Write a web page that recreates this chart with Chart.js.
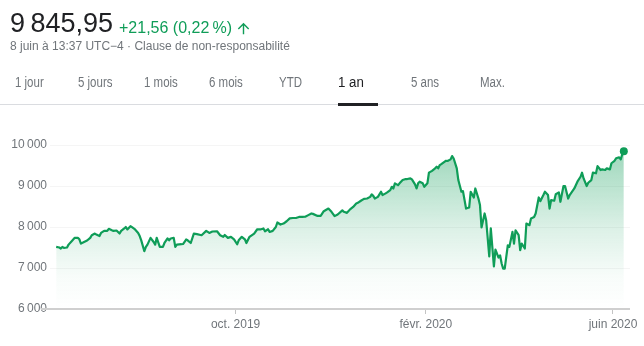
<!DOCTYPE html>
<html>
<head>
<meta charset="utf-8">
<script src="https://cdn.jsdelivr.net/npm/chart.js@4"></script>
<style>
  html, body { margin: 0; padding: 0; background: #fff; }
  body { width: 644px; height: 346px; position: relative; overflow: hidden;
         font-family: "Liberation Sans", Arial, sans-serif; }
  #chart { position: absolute; left: 0; top: 0; }
  .t { position: absolute; white-space: nowrap; line-height: 1; }
  .price { left: 10px; top: 10px; font-size: 27px; color: #202124; }
  .chg { left: 119px; top: 20px; font-size: 16px; color: #0f9d58; }
  .arrow { position: absolute; left: 234.5px; top: 19.5px; width: 17px; height: 17px; }
  .sub { left: 10px; top: 40px; font-size: 12px; color: #70757a; }
  .tab { top: 75px; font-size: 14px; color: #70757a; transform: scaleX(0.82); transform-origin: 0 0; }
  .tab.on { color: #202124; transform: scaleX(0.95); }
  .sep { position: absolute; left: 0; top: 103.5px; width: 644px; height: 1px; background: #dadce0; }
  .bar { position: absolute; left: 338px; top: 103px; width: 40px; height: 3px; background: #202124; }
</style>
</head>
<body>
<canvas id="chart" width="644" height="346"></canvas>

<div class="t price">9&#8239;845,95</div>
<div class="t chg">+21,56 (0,22&#8239;%)</div>
<svg class="arrow" viewBox="0 0 24 24"><path fill="#0f9d58" d="M4 12l1.41 1.41L11 7.83V20h2V7.83l5.58 5.59L20 12l-8-8-8 8z"/></svg>
<div class="t sub">8 juin à 13:37 UTC−4 · Clause de non-responsabilité</div>

<div class="t tab" style="left:15px">1 jour</div>
<div class="t tab" style="left:78px">5 jours</div>
<div class="t tab" style="left:144px">1 mois</div>
<div class="t tab" style="left:209px">6 mois</div>
<div class="t tab" style="left:279px">YTD</div>
<div class="t tab on" style="left:338px">1 an</div>
<div class="t tab" style="left:411px">5 ans</div>
<div class="t tab" style="left:480px">Max.</div>
<div class="sep"></div>
<div class="bar"></div>

<script>
// Index level over the last year
const dates = [
  '2019-06-07','2019-06-09','2019-06-10','2019-06-11','2019-06-12','2019-06-14','2019-06-15','2019-06-17',
  '2019-06-19','2019-06-21','2019-06-22','2019-06-23','2019-06-25','2019-06-27','2019-06-29','2019-06-30',
  '2019-07-02','2019-07-03','2019-07-05','2019-07-06','2019-07-08','2019-07-10','2019-07-11','2019-07-13',
  '2019-07-14','2019-07-16','2019-07-18','2019-07-19','2019-07-21','2019-07-22','2019-07-23','2019-07-25',
  '2019-07-26','2019-07-28','2019-07-30','2019-07-31','2019-08-01','2019-08-03','2019-08-04','2019-08-05',
  '2019-08-07','2019-08-09','2019-08-10','2019-08-11','2019-08-13','2019-08-15','2019-08-16','2019-08-18',
  '2019-08-19','2019-08-20','2019-08-22','2019-08-23','2019-08-24','2019-08-27','2019-08-28','2019-08-30',
  '2019-08-31','2019-09-02','2019-09-04','2019-09-06','2019-09-09','2019-09-12','2019-09-14','2019-09-16',
  '2019-09-19','2019-09-21','2019-09-23','2019-09-24','2019-09-26','2019-09-28','2019-09-30','2019-10-02',
  '2019-10-03','2019-10-05','2019-10-07','2019-10-08','2019-10-10','2019-10-13','2019-10-15','2019-10-17',
  '2019-10-19','2019-10-20','2019-10-22','2019-10-23','2019-10-25','2019-10-27','2019-10-28','2019-10-30',
  '2019-11-01','2019-11-03','2019-11-05','2019-11-07','2019-11-09','2019-11-11','2019-11-13','2019-11-15',
  '2019-11-17','2019-11-19','2019-11-20','2019-11-23','2019-11-25','2019-11-27','2019-11-30','2019-12-02',
  '2019-12-04','2019-12-06','2019-12-09','2019-12-10','2019-12-12','2019-12-14','2019-12-16','2019-12-18',
  '2019-12-19','2019-12-21','2019-12-23','2019-12-25','2019-12-27','2019-12-28','2019-12-29','2019-12-30',
  '2020-01-01','2020-01-03','2020-01-04','2020-01-06','2020-01-07','2020-01-09','2020-01-10','2020-01-11',
  '2020-01-12','2020-01-14','2020-01-15','2020-01-17','2020-01-19','2020-01-20','2020-01-22','2020-01-23',
  '2020-01-25','2020-01-26','2020-01-27','2020-01-28','2020-01-30','2020-01-31','2020-02-02','2020-02-03',
  '2020-02-05','2020-02-07','2020-02-08','2020-02-09','2020-02-10','2020-02-11','2020-02-13','2020-02-14',
  '2020-02-15','2020-02-17','2020-02-18','2020-02-19','2020-02-21','2020-02-22','2020-02-24','2020-02-25',
  '2020-02-27','2020-02-29','2020-03-01','2020-03-03','2020-03-04','2020-03-06','2020-03-07','2020-03-08',
  '2020-03-10','2020-03-11','2020-03-13','2020-03-14','2020-03-16','2020-03-17','2020-03-19','2020-03-20',
  '2020-03-21','2020-03-22','2020-03-23','2020-03-24','2020-03-25','2020-03-26','2020-03-28','2020-03-29',
  '2020-03-30','2020-04-01','2020-04-02','2020-04-03','2020-04-05','2020-04-06','2020-04-08','2020-04-09',
  '2020-04-11','2020-04-12','2020-04-14','2020-04-15','2020-04-17','2020-04-18','2020-04-20','2020-04-21',
  '2020-04-22','2020-04-24','2020-04-25','2020-04-27','2020-04-28','2020-04-30','2020-05-01','2020-05-03',
  '2020-05-04','2020-05-06','2020-05-07','2020-05-09','2020-05-11','2020-05-12','2020-05-13','2020-05-15',
  '2020-05-16','2020-05-18','2020-05-19','2020-05-21','2020-05-22','2020-05-24','2020-05-25','2020-05-27',
  '2020-05-28','2020-05-30','2020-05-31','2020-06-02','2020-06-03','2020-06-05','2020-06-06','2020-06-07',
  '2020-06-08'
];

const values = [
  7515, 7500, 7475, 7515, 7490, 7500, 7570, 7655,
  7735, 7735, 7700, 7595, 7635, 7670, 7735, 7800,
  7840, 7815, 7780, 7855, 7905, 7905, 7955, 7920,
  7905, 7915, 7840, 7905, 7965, 8000, 7940, 8020,
  7995, 7940, 7855, 7780, 7675, 7410, 7515, 7570,
  7735, 7635, 7570, 7735, 7515, 7515, 7610, 7720,
  7675, 7720, 7735, 7515, 7570, 7580, 7585, 7695,
  7675, 7610, 7840, 7825, 7800, 7905, 7855, 7890,
  7895, 7800, 7760, 7805, 7735, 7760, 7700, 7580,
  7675, 7760, 7700, 7610, 7760, 7840, 7945, 7940,
  7965, 7895, 7945, 7880, 7905, 8000, 8110, 8060,
  8085, 8140, 8210, 8220, 8220, 8245, 8245, 8250,
  8290, 8330, 8320, 8270, 8270, 8385, 8450, 8370,
  8265, 8305, 8405, 8370, 8345, 8430, 8490, 8575,
  8590, 8640, 8685, 8695, 8735, 8795, 8760, 8695,
  8735, 8860, 8780, 8820, 8845, 8900, 8980, 8940,
  9065, 9020, 9065, 9145, 9170, 9170, 9185, 9160,
  9040, 8940, 9065, 9105, 9065, 8980, 9065, 9325,
  9370, 9430, 9470, 9430, 9510, 9535, 9590, 9615,
  9610, 9650, 9730, 9670, 9430, 9145, 8860, 8875,
  8450, 8475, 8860, 8720, 8940, 8695, 8535, 7990,
  8330, 8165, 7285, 7965, 7040, 7450, 7255, 7310,
  7110, 6985, 6985, 7270, 7555, 7515, 7880, 7595,
  7920, 7800, 7435, 7595, 7475, 8085, 8045, 8210,
  8245, 8330, 8720, 8630, 8780, 8860, 8780, 8450,
  8655, 8640, 8800, 8845, 8615, 9000, 9000, 8695,
  8780, 8885, 8940, 9105, 9225, 9325, 9185, 9000,
  9080, 9145, 9325, 9310, 9485, 9390, 9405, 9390,
  9430, 9405, 9555, 9615, 9675, 9700, 9650, 9775,
  9845.95
];

const xTickDates = ['2019-10-01', '2020-02-01', '2020-06-01'];
const xTickLabels = ['oct. 2019', 'févr. 2020', 'juin 2020'];
const yTickValues = [6000, 7000, 8000, 9000, 10000];
const axisStart = '2019-06-03';
const axisEnd = '2020-06-12';

const DAY = 86400000;
const toDay = s => { const [y, m, d] = s.split('-').map(Number); return Date.UTC(y, m - 1, d) / DAY; };
const origin = toDay(dates[0]);
const points = dates.map((s, i) => ({ x: toDay(s) - origin, y: values[i] }));
const fmtThousands = v => Math.round(v / 1000) + '\u202f000';

const FONT = '"Liberation Sans", Arial, sans-serif';
const GREEN = '#0f9d58';

// Baseline under the plot, running a little past the left edge
const baseline = {
  id: 'baseline',
  afterDatasetsDraw(chart) {
    const { ctx, chartArea, scales } = chart;
    const py = scales.y.getPixelForValue(yTickValues[0]);
    ctx.save();
    ctx.strokeStyle = '#cfcfcf';
    ctx.lineWidth = 2;
    ctx.beginPath();
    ctx.moveTo(chartArea.left - 9, py);
    ctx.lineTo(chartArea.right, py);
    ctx.stroke();
    ctx.restore();
  }
};

new Chart(document.getElementById('chart'), {
  type: 'line',
  data: {
    datasets: [{
      data: points,
      borderColor: GREEN,
      borderWidth: 2.2,
      borderJoinStyle: 'round',
      tension: 0,
      clip: false,
      pointRadius: c => (c.dataIndex === points.length - 1 ? 4 : 0),
      pointHoverRadius: 0,
      pointBorderWidth: 0,
      pointBackgroundColor: GREEN,
      fill: 'start',
      backgroundColor: c => {
        const a = c.chart.chartArea;
        if (!a) return 'rgba(0,0,0,0)';
        const g = c.chart.ctx.createLinearGradient(0, a.top, 0, a.bottom);
        g.addColorStop(0, 'rgba(15,157,88,0.42)');
        g.addColorStop(0.5, 'rgba(15,157,88,0.15)');
        g.addColorStop(0.8, 'rgba(15,157,88,0.03)');
        g.addColorStop(1, 'rgba(15,157,88,0)');
        return g;
      }
    }]
  },
  options: {
    responsive: false,
    animation: false,
    devicePixelRatio: 1,
    events: [],
    layout: { padding: { top: 145, right: 14, left: 0, bottom: 0 } },
    plugins: { legend: { display: false }, tooltip: { enabled: false } },
    scales: {
      x: {
        type: 'linear',
        min: toDay(axisStart) - origin,
        max: toDay(axisEnd) - origin,
        afterBuildTicks: s => { s.ticks = xTickDates.map(d => ({ value: toDay(d) - origin })); },
        afterFit: s => { s.height = 37; },
        grid: { drawOnChartArea: false, drawTicks: true, tickLength: 5, color: '#c4c4c4', lineWidth: 1 },
        border: { display: false },
        ticks: {
          autoSkip: false, maxRotation: 0, padding: 3,
          color: '#70757a', font: { family: FONT, size: 12 },
          callback: (v, i) => xTickLabels[i]
        }
      },
      y: {
        min: yTickValues[0],
        max: yTickValues[yTickValues.length - 1],
        afterBuildTicks: s => { s.ticks = yTickValues.map(v => ({ value: v })); },
        afterFit: s => { s.width = 50; },
        grid: {
          drawTicks: false,
          color: c => (c.tick && c.tick.value === yTickValues[0] ? 'rgba(0,0,0,0)' : '#f5f5f5')
        },
        border: { display: false },
        ticks: {
          padding: 3, color: '#70757a', font: { family: FONT, size: 12 },
          callback: v => fmtThousands(v)
        }
      }
    }
  },
  plugins: [baseline]
});
</script>
</body>
</html>
